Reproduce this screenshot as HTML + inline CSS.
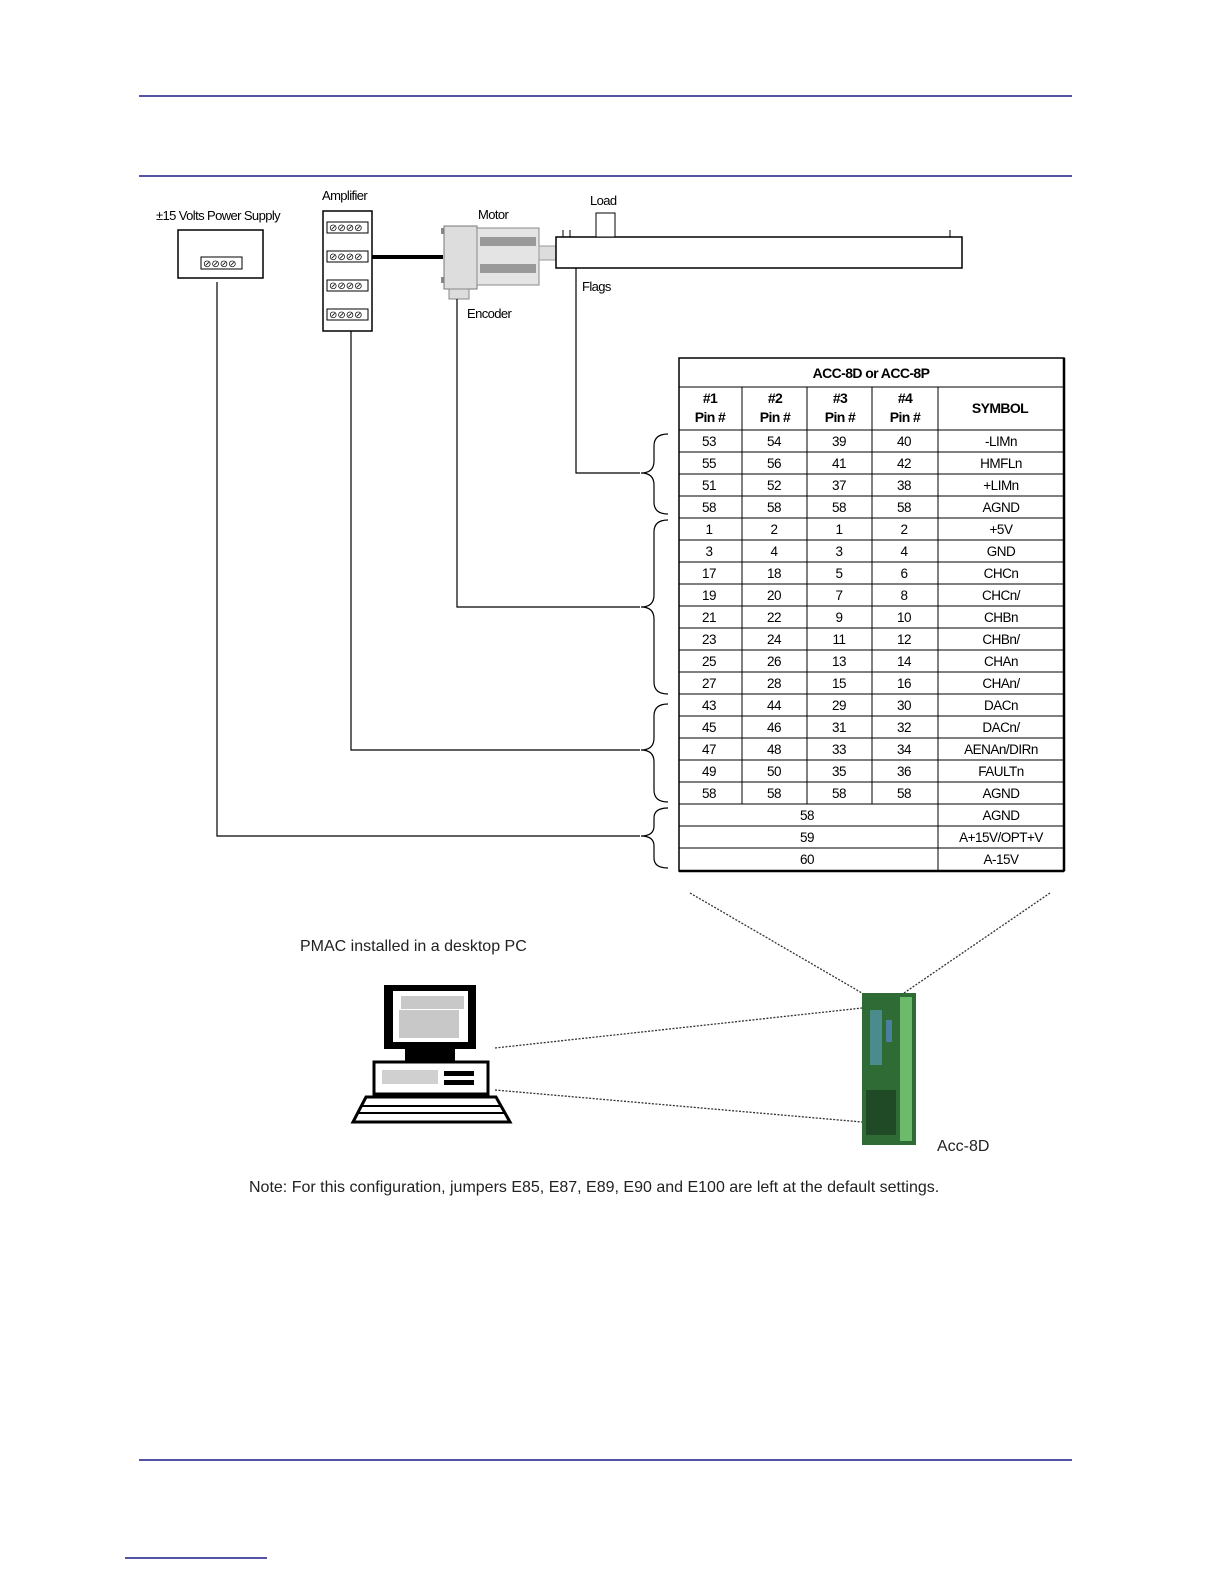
<!DOCTYPE html>
<html><head><meta charset="utf-8"><style>
body{margin:0;background:#fff}
svg{display:block}
text{font-family:"Liberation Sans",sans-serif}
</style></head><body>
<svg width="1224" height="1584" viewBox="0 0 1224 1584" xmlns="http://www.w3.org/2000/svg">
<line x1="139" y1="96" x2="1072" y2="96" stroke="#1c1c8a" stroke-width="1.5"/>
<line x1="139" y1="176" x2="1072" y2="176" stroke="#1c1c8a" stroke-width="1.5"/>
<line x1="139" y1="1460" x2="1072" y2="1460" stroke="#1c1c8a" stroke-width="1.5"/>
<line x1="125" y1="1558" x2="267" y2="1558" stroke="#1c1c8a" stroke-width="1.5"/>

<g font-size="13" fill="#000" letter-spacing="-0.6">
<text x="156" y="220">±15 Volts Power Supply</text>
<text x="322" y="200">Amplifier</text>
<text x="478" y="219">Motor</text>
<text x="590" y="205">Load</text>
<text x="582" y="291">Flags</text>
<text x="467" y="318">Encoder</text>
</g>
<!-- PSU -->
<rect x="178" y="230" width="85" height="48" fill="#fff" stroke="#000" stroke-width="1.5"/>
<rect x="201" y="257" width="41" height="12" fill="#fff" stroke="#000"/>
<text x="203" y="267" font-size="10">⊘⊘⊘⊘</text>
<!-- Amp -->
<rect x="323" y="211" width="49" height="120" fill="#fff" stroke="#000" stroke-width="1.5"/>
<g font-size="10">
<rect x="327" y="222" width="41" height="11" fill="#fff" stroke="#000"/><text x="329" y="231">⊘⊘⊘⊘</text>
<rect x="327" y="251" width="41" height="11" fill="#fff" stroke="#000"/><text x="329" y="260">⊘⊘⊘⊘</text>
<rect x="327" y="280" width="41" height="11" fill="#fff" stroke="#000"/><text x="329" y="289">⊘⊘⊘⊘</text>
<rect x="327" y="309" width="41" height="11" fill="#fff" stroke="#000"/><text x="329" y="318">⊘⊘⊘⊘</text>
</g>
<line x1="372" y1="257" x2="443" y2="257" stroke="#000" stroke-width="4"/>
<!-- Motor -->
<rect x="441" y="228" width="4" height="6" fill="#888"/><rect x="441" y="277" width="4" height="6" fill="#888"/>
<rect x="444" y="226" width="33" height="63" fill="#ddd" stroke="#777"/>
<rect x="477" y="228" width="62" height="57" fill="#e4e4e4" stroke="#888"/>
<rect x="480" y="237" width="56" height="9" fill="#999"/>
<rect x="480" y="264" width="56" height="9" fill="#999"/>
<rect x="539" y="246" width="18" height="14" fill="#ddd" stroke="#999"/>
<rect x="449" y="289" width="20" height="10" fill="#ddd" stroke="#888"/>
<!-- Load bar -->
<rect x="556" y="237" width="406" height="31" fill="#fff" stroke="#000" stroke-width="1.5"/>
<rect x="596" y="213" width="19" height="24" fill="#fff" stroke="#000"/>
<line x1="563" y1="230" x2="563" y2="237" stroke="#000"/><line x1="570" y1="230" x2="570" y2="237" stroke="#000"/>
<line x1="950" y1="230" x2="950" y2="237" stroke="#000"/>
<!-- connector lines -->
<g stroke="#000" stroke-width="1.2" fill="none">
<polyline points="576,268 576,473 640,473"/>
<polyline points="457,299 457,607 640,607"/>
<polyline points="351,331 351,750 640,750"/>
<polyline points="217,282 217,836 640,836"/>
<!-- braces -->
<path d="M668,434 Q654,434 654,446 L654,461 Q654,473 641,473 Q654,473 654,485 L654,502 Q654,514 668,514"/>
<path d="M668,520 Q654,520 654,532 L654,595 Q654,607 641,607 Q654,607 654,619 L654,682 Q654,694 668,694"/>
<path d="M668,704 Q654,704 654,716 L654,738 Q654,750 641,750 Q654,750 654,762 L654,790 Q654,802 668,802"/>
<path d="M668,808 Q654,808 654,818 L654,826 Q654,836 641,836 Q654,836 654,846 L654,858 Q654,868 668,868"/>
</g>
<!-- Table -->
<g stroke="#000" fill="none">
<rect x="679" y="358" width="385" height="513" stroke-width="1.5"/>
<line x1="1064" y1="358" x2="1064" y2="871" stroke-width="2.5"/>
<line x1="679" y1="871" x2="1064" y2="871" stroke-width="2.5"/>
<line x1="679" y1="387" x2="1064" y2="387"/>
<line x1="679" y1="430" x2="1064" y2="430"/>
<line x1="742" y1="387" x2="742" y2="804"/>
<line x1="807" y1="387" x2="807" y2="804"/>
<line x1="872" y1="387" x2="872" y2="804"/>
<line x1="938" y1="387" x2="938" y2="871"/>
<line x1="679" y1="452" x2="1064" y2="452"/><line x1="679" y1="474" x2="1064" y2="474"/><line x1="679" y1="496" x2="1064" y2="496"/><line x1="679" y1="518" x2="1064" y2="518"/><line x1="679" y1="540" x2="1064" y2="540"/><line x1="679" y1="562" x2="1064" y2="562"/><line x1="679" y1="584" x2="1064" y2="584"/><line x1="679" y1="606" x2="1064" y2="606"/><line x1="679" y1="628" x2="1064" y2="628"/><line x1="679" y1="650" x2="1064" y2="650"/><line x1="679" y1="672" x2="1064" y2="672"/><line x1="679" y1="694" x2="1064" y2="694"/><line x1="679" y1="716" x2="1064" y2="716"/><line x1="679" y1="738" x2="1064" y2="738"/><line x1="679" y1="760" x2="1064" y2="760"/><line x1="679" y1="782" x2="1064" y2="782"/><line x1="679" y1="804" x2="1064" y2="804"/><line x1="679" y1="826" x2="1064" y2="826"/><line x1="679" y1="848" x2="1064" y2="848"/>
</g>
<g font-size="14" text-anchor="middle" font-weight="bold" letter-spacing="-0.6">
<text x="871" y="378">ACC-8D or ACC-8P</text>
<text x="710" y="403">#1</text><text x="710" y="422">Pin #</text>
<text x="775" y="403">#2</text><text x="775" y="422">Pin #</text>
<text x="840" y="403">#3</text><text x="840" y="422">Pin #</text>
<text x="905" y="403">#4</text><text x="905" y="422">Pin #</text>
<text x="1000" y="413">SYMBOL</text>
</g>
<g font-size="13.5" text-anchor="middle" letter-spacing="-0.5">
<g transform="translate(0,446)"><text x="709">53</text><text x="774">54</text><text x="839">39</text><text x="904">40</text><text x="1001">-LIMn</text></g>
<g transform="translate(0,468)"><text x="709">55</text><text x="774">56</text><text x="839">41</text><text x="904">42</text><text x="1001">HMFLn</text></g>
<g transform="translate(0,490)"><text x="709">51</text><text x="774">52</text><text x="839">37</text><text x="904">38</text><text x="1001">+LIMn</text></g>
<g transform="translate(0,512)"><text x="709">58</text><text x="774">58</text><text x="839">58</text><text x="904">58</text><text x="1001">AGND</text></g>
<g transform="translate(0,534)"><text x="709">1</text><text x="774">2</text><text x="839">1</text><text x="904">2</text><text x="1001">+5V</text></g>
<g transform="translate(0,556)"><text x="709">3</text><text x="774">4</text><text x="839">3</text><text x="904">4</text><text x="1001">GND</text></g>
<g transform="translate(0,578)"><text x="709">17</text><text x="774">18</text><text x="839">5</text><text x="904">6</text><text x="1001">CHCn</text></g>
<g transform="translate(0,600)"><text x="709">19</text><text x="774">20</text><text x="839">7</text><text x="904">8</text><text x="1001">CHCn/</text></g>
<g transform="translate(0,622)"><text x="709">21</text><text x="774">22</text><text x="839">9</text><text x="904">10</text><text x="1001">CHBn</text></g>
<g transform="translate(0,644)"><text x="709">23</text><text x="774">24</text><text x="839">11</text><text x="904">12</text><text x="1001">CHBn/</text></g>
<g transform="translate(0,666)"><text x="709">25</text><text x="774">26</text><text x="839">13</text><text x="904">14</text><text x="1001">CHAn</text></g>
<g transform="translate(0,688)"><text x="709">27</text><text x="774">28</text><text x="839">15</text><text x="904">16</text><text x="1001">CHAn/</text></g>
<g transform="translate(0,710)"><text x="709">43</text><text x="774">44</text><text x="839">29</text><text x="904">30</text><text x="1001">DACn</text></g>
<g transform="translate(0,732)"><text x="709">45</text><text x="774">46</text><text x="839">31</text><text x="904">32</text><text x="1001">DACn/</text></g>
<g transform="translate(0,754)"><text x="709">47</text><text x="774">48</text><text x="839">33</text><text x="904">34</text><text x="1001">AENAn/DIRn</text></g>
<g transform="translate(0,776)"><text x="709">49</text><text x="774">50</text><text x="839">35</text><text x="904">36</text><text x="1001">FAULTn</text></g>
<g transform="translate(0,798)"><text x="709">58</text><text x="774">58</text><text x="839">58</text><text x="904">58</text><text x="1001">AGND</text></g>
<g transform="translate(0,820)"><text x="807">58</text><text x="1001">AGND</text></g>
<g transform="translate(0,842)"><text x="807">59</text><text x="1001">A+15V/OPT+V</text></g>
<g transform="translate(0,864)"><text x="807">60</text><text x="1001">A-15V</text></g>
</g>
<!-- dotted lines -->
<g stroke="#333" stroke-width="1.3" stroke-dasharray="2,1.5" fill="none">
<line x1="690" y1="893" x2="862" y2="993"/>
<line x1="1050" y1="893" x2="904" y2="993"/>
<line x1="495" y1="1048" x2="862" y2="1008"/>
<line x1="495" y1="1090" x2="862" y2="1122"/>
</g>
<text x="300" y="951" font-size="16" fill="#222">PMAC installed in a desktop PC</text>
<!-- computer -->
<rect x="384" y="985" width="92" height="64" fill="#000"/>
<rect x="393" y="991" width="75" height="51" fill="#fff"/>
<rect x="399" y="1010" width="60" height="28" fill="#c8c8c8"/>
<rect x="401" y="996" width="63" height="13" fill="#c8c8c8"/>
<rect x="405" y="1048" width="50" height="13" fill="#000"/>
<rect x="374" y="1062" width="114" height="32" fill="#fff" stroke="#000" stroke-width="3"/>
<rect x="382" y="1070" width="56" height="14" fill="#d0d0d0"/>
<rect x="444" y="1071" width="30" height="5" fill="#000"/><rect x="444" y="1080" width="30" height="5" fill="#000"/>
<path d="M366,1097 L496,1097 L510,1122 L353,1122 Z" fill="#fff" stroke="#000" stroke-width="3"/>
<g stroke="#000" stroke-width="2"><line x1="362" y1="1106" x2="500" y2="1106"/><line x1="359" y1="1113" x2="504" y2="1113"/></g>
<!-- board -->
<rect x="862" y="993" width="54" height="152" fill="#2e6b35"/>
<rect x="900" y="997" width="12" height="144" fill="#6cba6c"/>
<rect x="870" y="1010" width="12" height="55" fill="#4a8c8c"/>
<rect x="886" y="1020" width="6" height="22" fill="#4a7fa0"/>
<rect x="866" y="1090" width="30" height="45" fill="#1f4a25"/>
<text x="937" y="1151" font-size="16" fill="#222">Acc-8D</text>
<text x="249" y="1192" font-size="16" fill="#222">Note: For this configuration, jumpers E85, E87, E89, E90 and E100 are left at the default settings.</text>
</svg>
</body></html>
